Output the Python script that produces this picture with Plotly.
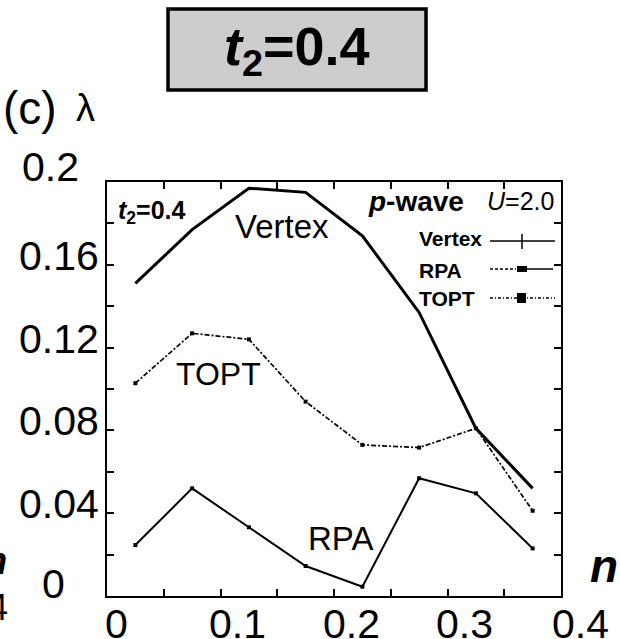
import plotly.graph_objects as go

# ---- data ----
n_vals = [0.025, 0.075, 0.125, 0.175, 0.225, 0.275, 0.325, 0.375]
vertex = [0.151, 0.177, 0.197, 0.195, 0.174, 0.137, 0.081, 0.052]
rpa = [0.0246, 0.052, 0.0332, 0.0145, 0.0045, 0.0569, 0.0496, 0.023]
topt = [0.1028, 0.1269, 0.124, 0.0939, 0.073, 0.0717, 0.081, 0.0412]

xtick_vals = [0, 0.1, 0.2, 0.3, 0.4]
xtick_text = ["0", "0.1", "0.2", "0.3", "0.4"]
ytick_vals = [0, 0.04, 0.08, 0.12, 0.16, 0.2]
ytick_text = ["0", "0.04", "0.08", "0.12", "0.16", "0.2"]
legend_names = ["Vertex", "RPA", "TOPT"]

# ---- layout geometry (pixels) ----
W, H = 620, 639
L, R, T, B = 107, 561, 182, 596
FONT = "Liberation Sans, Arial, Helvetica, sans-serif"


def px(x):
    return (x - L) / (R - L)


def py(y):
    return (B - y) / (B - T)


fig = go.Figure()
fig.add_trace(go.Scatter(x=n_vals, y=vertex, mode="lines", name="Vertex",
                         line=dict(color="black", width=3)))
fig.add_trace(go.Scatter(x=n_vals, y=rpa, mode="lines+markers", name="RPA",
                         line=dict(color="black", width=2),
                         marker=dict(symbol="square", size=4, color="black")))
fig.add_trace(go.Scatter(x=n_vals, y=topt, mode="lines+markers", name="TOPT",
                         line=dict(color="black", width=1.7, dash="5px,2px,2px,2px"),
                         marker=dict(symbol="square", size=4, color="black")))

ann = []
# y tick labels
yspecial = {0: dict(x=px(53), xanchor="center", yshift=12),
            0.2: dict(x=px(50), xanchor="center", yshift=15)}
for v, t in zip(ytick_vals, ytick_text):
    opts = yspecial.get(v, dict(x=px(101), xanchor="right", yshift=9))
    ann.append(dict(text=t, xref="paper", yref="y", y=v, yanchor="middle",
                    showarrow=False, font=dict(size=41, family=FONT, color="black"),
                    **opts))
# x tick labels
xshift_map = {0: 9, 0.4: 19}
for v, t in zip(xtick_vals, xtick_text):
    ann.append(dict(text=t, xref="x", yref="paper", x=v, y=py(599), yanchor="top",
                    xanchor="center", xshift=xshift_map.get(v, 17), showarrow=False,
                    font=dict(size=41, family=FONT, color="black")))


def txt(text, x, y, size, xanchor="center", **kw):
    ann.append(dict(text=text, xref="paper", yref="paper", x=px(x), y=py(y),
                    xanchor=xanchor, yanchor="middle", showarrow=False,
                    font=dict(size=size, family=FONT, color="black", **kw)))


# curve labels
txt("Vertex", 282, 226, 33)
txt("TOPT", 218, 374, 32)
txt("RPA", 340, 538, 33)
# inner annotations
txt("<b><i>t</i><sub>2</sub>=0.4</b>", 116, 212, 25, xanchor="left")
txt("<b><i>p</i>-wave</b>", 416, 201, 28)
txt("<i>U</i>=2.0", 520, 201, 25)
# panel label and axis titles
txt("(c)", 30, 108, 46)
txt("λ", 85, 108, 38)
txt("<b><i>n</i></b>", 604, 566, 46)
# cropped neighbours at the left edge
txt("<b><i>n</i></b>", 9, 561, 38, xanchor="right")
txt("0.4", 10, 607, 36, xanchor="right")
# title box text
txt("<b><i>t</i><sub>2</sub>=0.4</b>", 297, 50, 54)

# manual legend
leg_y = [238, 270, 298]
for name, yy in zip(legend_names, leg_y):
    txt("<b>" + name + "</b>", 417, yy, 21, xanchor="left")

shapes = []
# title box
shapes.append(dict(type="rect", xref="paper", yref="paper", x0=px(168), x1=px(426),
                   y0=py(90), y1=py(9), line=dict(color="black", width=3.5),
                   fillcolor="#cdcdcd", layer="below"))
# legend samples
shapes.append(dict(type="line", xref="paper", yref="paper", x0=px(490), x1=px(555),
                   y0=py(241), y1=py(241), line=dict(color="black", width=1.5)))
shapes.append(dict(type="line", xref="paper", yref="paper", x0=px(522), x1=px(522),
                   y0=py(234), y1=py(249), line=dict(color="black", width=1.5)))
shapes.append(dict(type="line", xref="paper", yref="paper", x0=px(490), x1=px(516),
                   y0=py(269), y1=py(269), line=dict(color="black", width=1.5, dash="3px,2px")))
shapes.append(dict(type="line", xref="paper", yref="paper", x0=px(527), x1=px(553),
                   y0=py(269), y1=py(269), line=dict(color="black", width=1.5)))
shapes.append(dict(type="rect", xref="paper", yref="paper", x0=px(517), x1=px(527),
                   y0=py(272), y1=py(266), line=dict(width=0), fillcolor="black"))
shapes.append(dict(type="line", xref="paper", yref="paper", x0=px(490), x1=px(555),
                   y0=py(298), y1=py(298), line=dict(color="black", width=1.5, dash="3px,2px,1px,2px")))
shapes.append(dict(type="rect", xref="paper", yref="paper", x0=px(517), x1=px(526),
                   y0=py(303), y1=py(293), line=dict(width=0), fillcolor="black"))

fig.update_layout(
    width=W, height=H,
    margin=dict(l=L, r=W - R, t=T, b=H - B),
    paper_bgcolor="white", plot_bgcolor="white",
    showlegend=False,
    annotations=ann, shapes=shapes,
    xaxis=dict(range=[0, 0.4], showgrid=False, zeroline=False,
               showline=True, linecolor="black", linewidth=2, mirror="ticks",
               ticks="inside", ticklen=7, tickwidth=1.5, tickcolor="black",
               tickvals=[0.05 * i for i in range(9)], showticklabels=False),
    yaxis=dict(range=[0, 0.2], showgrid=False, zeroline=False,
               showline=True, linecolor="black", linewidth=2, mirror="ticks",
               ticks="inside", ticklen=7, tickwidth=1.5, tickcolor="black",
               tickvals=[0.02 * i for i in range(11)], showticklabels=False),
)

fig.write_html("out.html")
